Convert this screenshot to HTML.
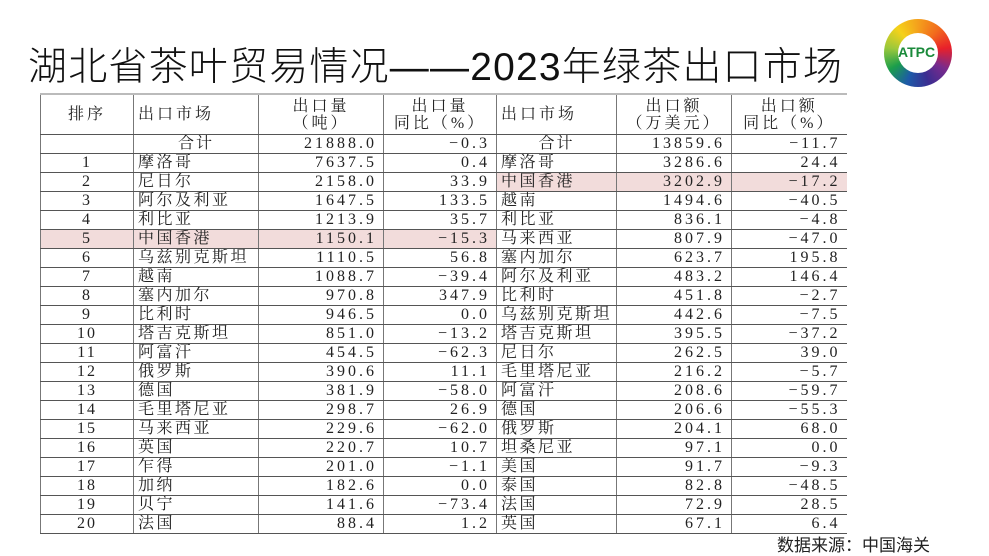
<!DOCTYPE html>
<html><head><meta charset="utf-8"><style>
body{margin:0;width:989px;height:556px;background:#fff;position:relative;overflow:hidden;font-family:"Liberation Serif","Noto Serif CJK SC",serif;}
.title{position:absolute;left:28px;top:36px;font-family:"Liberation Sans","Noto Sans CJK SC",sans-serif;font-weight:300;font-size:39px;color:#111;white-space:nowrap;letter-spacing:1.2px;}
table{position:absolute;left:40px;top:93px;border-collapse:collapse;table-layout:fixed;font-size:16px;color:#222;}
td{height:18px;padding:0 4px;border-top:1px solid #555;border-bottom:1px solid #555;border-left:1px solid #777;white-space:nowrap;line-height:18px;overflow:hidden;}
tr.h td{height:39px;line-height:17px;text-align:center;border-top:2px solid #bbb;letter-spacing:3px}
td.c{text-align:center;letter-spacing:2px}
td.r{text-align:right;letter-spacing:3px;padding-right:6px}
td.l{text-align:left;letter-spacing:2.5px}
.pk{background:#f2dcdb}
.src{position:absolute;left:777px;top:531px;font-family:"Liberation Sans","Noto Sans CJK SC",sans-serif;font-size:17px;color:#222}
.logo{position:absolute;left:884px;top:19px;width:68px;height:68px;border-radius:50%;background:conic-gradient(#f4a01c,#f26b1d,#e8202a,#7a2a8c,#3b2d91,#1d5aa8,#1b9e4b,#9bc83b,#f5d21a,#f4a01c);}
.logo:after{content:"";position:absolute;left:14px;top:14px;width:40px;height:40px;border-radius:50%;background:#fff}
.logo span{position:absolute;left:14px;top:25px;z-index:2;font:bold 14px "Liberation Sans",sans-serif;color:#1a8a3a}
</style></head><body>
<div class="title">湖北省茶叶贸易情况——2023年绿茶出口市场</div>
<div class="logo"><span>ATPC</span></div>
<table>
<colgroup><col style="width:93px"><col style="width:125px"><col style="width:125px"><col style="width:113px"><col style="width:120px"><col style="width:115px"><col style="width:115px"></colgroup>
<tr class="h"><td>排序</td><td style="text-align:left">出口市场</td><td>出口量<br>（吨）</td><td>出口量<br>同比（%）</td><td style="text-align:left">出口市场</td><td>出口额<br>（万美元）</td><td>出口额<br>同比（%）</td></tr>
<tr><td></td><td class="c">合计</td><td class="r">21888.0</td><td class="r">−0.3</td><td class="c">合计</td><td class="r">13859.6</td><td class="r">−11.7</td></tr>
<tr><td class="c">1</td><td class="l">摩洛哥</td><td class="r">7637.5</td><td class="r">0.4</td><td class="l">摩洛哥</td><td class="r">3286.6</td><td class="r">24.4</td></tr>
<tr><td class="c">2</td><td class="l">尼日尔</td><td class="r">2158.0</td><td class="r">33.9</td><td class="l pk">中国香港</td><td class="r pk">3202.9</td><td class="r pk">−17.2</td></tr>
<tr><td class="c">3</td><td class="l">阿尔及利亚</td><td class="r">1647.5</td><td class="r">133.5</td><td class="l">越南</td><td class="r">1494.6</td><td class="r">−40.5</td></tr>
<tr><td class="c">4</td><td class="l">利比亚</td><td class="r">1213.9</td><td class="r">35.7</td><td class="l">利比亚</td><td class="r">836.1</td><td class="r">−4.8</td></tr>
<tr><td class="c pk">5</td><td class="l pk">中国香港</td><td class="r pk">1150.1</td><td class="r pk">−15.3</td><td class="l">马来西亚</td><td class="r">807.9</td><td class="r">−47.0</td></tr>
<tr><td class="c">6</td><td class="l">乌兹别克斯坦</td><td class="r">1110.5</td><td class="r">56.8</td><td class="l">塞内加尔</td><td class="r">623.7</td><td class="r">195.8</td></tr>
<tr><td class="c">7</td><td class="l">越南</td><td class="r">1088.7</td><td class="r">−39.4</td><td class="l">阿尔及利亚</td><td class="r">483.2</td><td class="r">146.4</td></tr>
<tr><td class="c">8</td><td class="l">塞内加尔</td><td class="r">970.8</td><td class="r">347.9</td><td class="l">比利时</td><td class="r">451.8</td><td class="r">−2.7</td></tr>
<tr><td class="c">9</td><td class="l">比利时</td><td class="r">946.5</td><td class="r">0.0</td><td class="l">乌兹别克斯坦</td><td class="r">442.6</td><td class="r">−7.5</td></tr>
<tr><td class="c">10</td><td class="l">塔吉克斯坦</td><td class="r">851.0</td><td class="r">−13.2</td><td class="l">塔吉克斯坦</td><td class="r">395.5</td><td class="r">−37.2</td></tr>
<tr><td class="c">11</td><td class="l">阿富汗</td><td class="r">454.5</td><td class="r">−62.3</td><td class="l">尼日尔</td><td class="r">262.5</td><td class="r">39.0</td></tr>
<tr><td class="c">12</td><td class="l">俄罗斯</td><td class="r">390.6</td><td class="r">11.1</td><td class="l">毛里塔尼亚</td><td class="r">216.2</td><td class="r">−5.7</td></tr>
<tr><td class="c">13</td><td class="l">德国</td><td class="r">381.9</td><td class="r">−58.0</td><td class="l">阿富汗</td><td class="r">208.6</td><td class="r">−59.7</td></tr>
<tr><td class="c">14</td><td class="l">毛里塔尼亚</td><td class="r">298.7</td><td class="r">26.9</td><td class="l">德国</td><td class="r">206.6</td><td class="r">−55.3</td></tr>
<tr><td class="c">15</td><td class="l">马来西亚</td><td class="r">229.6</td><td class="r">−62.0</td><td class="l">俄罗斯</td><td class="r">204.1</td><td class="r">68.0</td></tr>
<tr><td class="c">16</td><td class="l">英国</td><td class="r">220.7</td><td class="r">10.7</td><td class="l">坦桑尼亚</td><td class="r">97.1</td><td class="r">0.0</td></tr>
<tr><td class="c">17</td><td class="l">乍得</td><td class="r">201.0</td><td class="r">−1.1</td><td class="l">美国</td><td class="r">91.7</td><td class="r">−9.3</td></tr>
<tr><td class="c">18</td><td class="l">加纳</td><td class="r">182.6</td><td class="r">0.0</td><td class="l">泰国</td><td class="r">82.8</td><td class="r">−48.5</td></tr>
<tr><td class="c">19</td><td class="l">贝宁</td><td class="r">141.6</td><td class="r">−73.4</td><td class="l">法国</td><td class="r">72.9</td><td class="r">28.5</td></tr>
<tr><td class="c">20</td><td class="l">法国</td><td class="r">88.4</td><td class="r">1.2</td><td class="l">英国</td><td class="r">67.1</td><td class="r">6.4</td></tr>
</table>
<div class="src">数据来源：中国海关</div>
</body></html>
